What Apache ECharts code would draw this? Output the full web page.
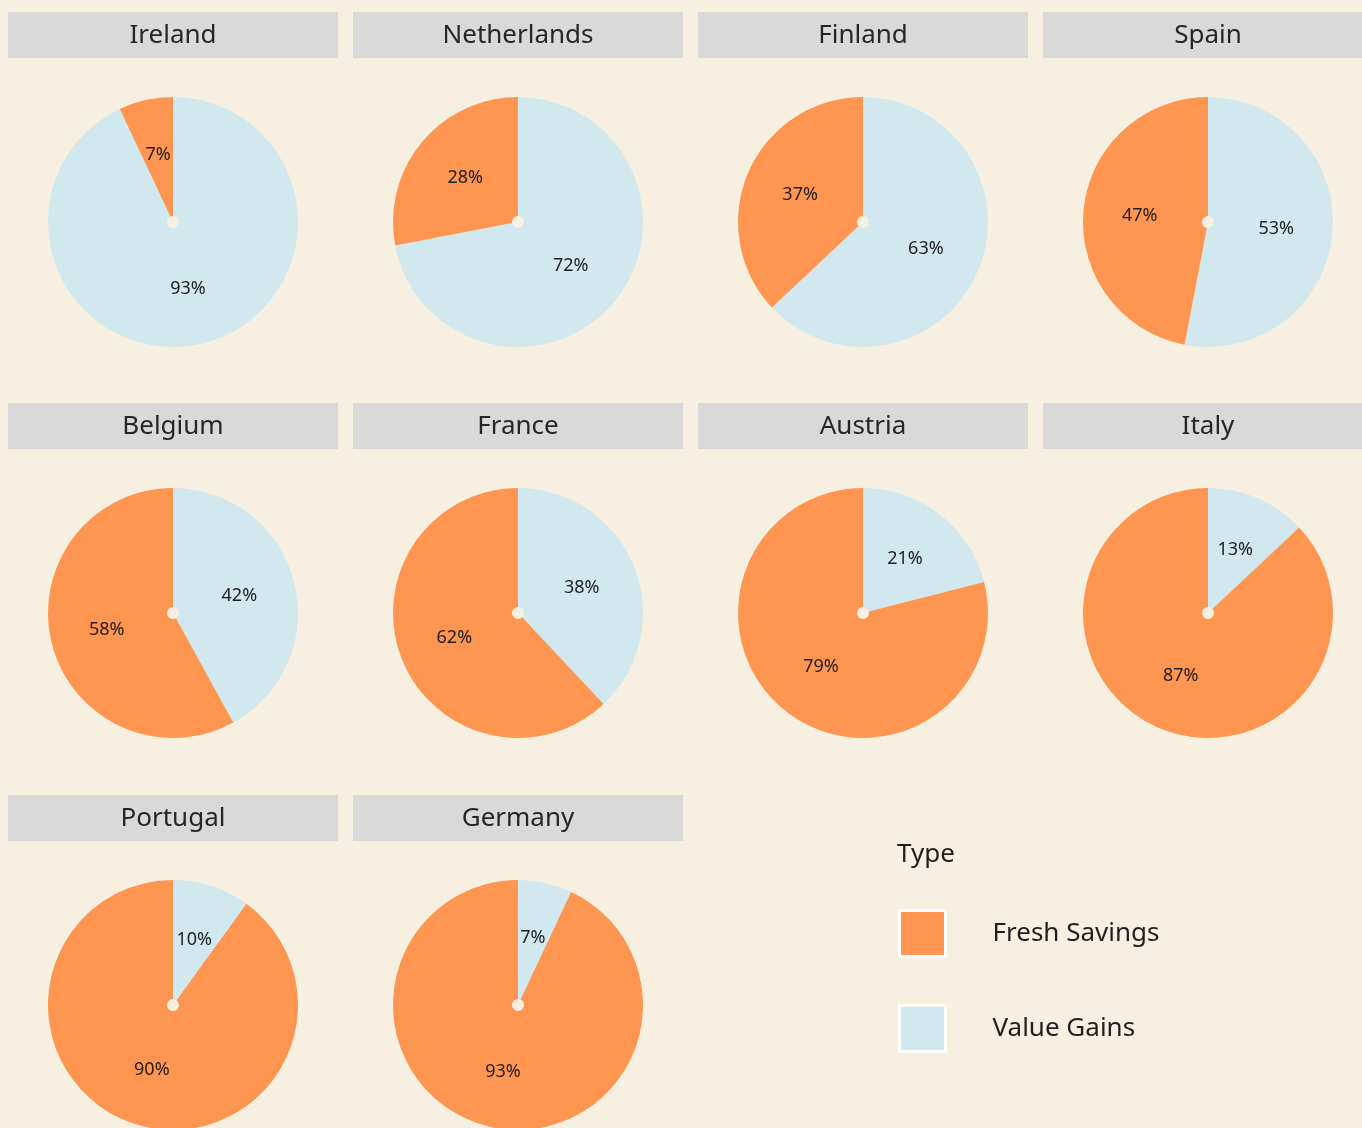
<!DOCTYPE html>
<html>
<head>
<meta charset="utf-8">
<script src="https://cdn.jsdelivr.net/npm/echarts@6/dist/echarts.min.js"></script>
<style>
  html, body { margin: 0; padding: 0; background: #f7f0e1; }
  #main { width: 1362px; height: 1128px; }
</style>
</head>
<body>
<div id="main"></div>
<script>
// facet order, row by row
const countries = ['Ireland', 'Netherlands', 'Finland', 'Spain', 'Belgium', 'France', 'Austria', 'Italy', 'Portugal', 'Germany']
const freshSavings = [7, 28, 37, 47, 58, 62, 79, 87, 90, 93]
const valueGains = [93, 72, 63, 53, 42, 38, 21, 13, 10, 7]

const colLeft = [8, 353, 698, 1043]
const rowTop = [12, 403, 795]
const panelW = 330
const stripH = 46

const fontFam = '"Noto Sans", Lato, sans-serif'

const chart = echarts.init(document.getElementById('main'))

const series = []
const graphics = []

countries.forEach((name, i) => {
    const col = i % 4
    const row = Math.floor(i / 4)
    const cx = colLeft[col] + panelW / 2
    const cy = rowTop[row] + 210

    // strip header
    graphics.push({
        type: 'rect',
        shape: { x: colLeft[col], y: rowTop[row], width: panelW, height: stripH },
        style: { fill: '#d9d9d9' },
        silent: true
    })
    graphics.push({
        type: 'text',
        x: cx,
        y: rowTop[row] + stripH / 2 + 1,
        style: {
            text: name,
            fill: '#262626',
            font: '26px ' + fontFam,
            textAlign: 'center',
            textVerticalAlign: 'middle'
        },
        silent: true
    })

    series.push({
        type: 'pie',
        name: name,
        center: [cx, cy],
        radius: [6, 125],
        startAngle: 90,
        clockwise: true,
        silent: true,
        avoidLabelOverlap: false,
        label: {
            show: true,
            position: 'inside',
            formatter: '{c}%',
            color: '#1f1f1f',
            fontSize: 18,
            fontFamily: fontFam
        },
        labelLine: { show: false },
        itemStyle: { borderWidth: 0 },
        data: [
            { name: 'Value Gains', value: valueGains[i] },
            { name: 'Fresh Savings', value: freshSavings[i] }
        ]
    })
})

// legend title
graphics.push({
    type: 'text',
    x: 897,
    y: 855,
    style: {
        text: 'Type',
        fill: '#1f1f1f',
        font: '26px ' + fontFam,
        textVerticalAlign: 'middle'
    },
    silent: true
})

const options = {
    backgroundColor: '#f7f0e1',
    animation: false,
    color: ['#d0e8ee', '#fe9550'],
    legend: {
        data: ['Fresh Savings', 'Value Gains'],
        orient: 'vertical',
        left: 893,
        top: 904,
        icon: 'rect',
        itemWidth: 46,
        itemHeight: 46,
        itemGap: 46,
        selectedMode: false,
        itemStyle: { borderColor: '#ffffff', borderWidth: 3 },
        textStyle: {
            fontSize: 26,
            color: '#1f1f1f',
            fontFamily: fontFam,
            padding: [0, 0, 0, 42]
        }
    },
    graphic: graphics,
    series: series
}

chart.setOption(options)
</script>
</body>
</html>
